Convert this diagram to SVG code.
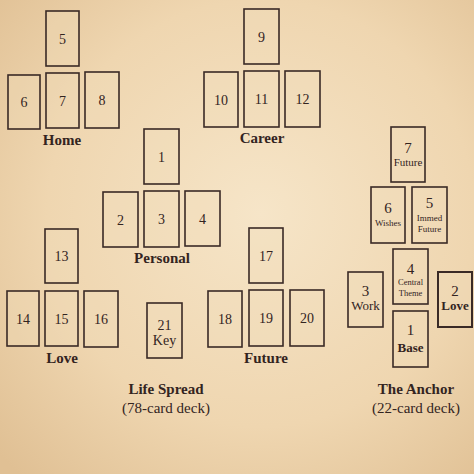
<svg xmlns="http://www.w3.org/2000/svg" width="474" height="474" viewBox="0 0 474 474">
<defs>
<radialGradient id="bg" cx="0.55" cy="0.45" r="0.75">
<stop offset="0" stop-color="#f6e5c8"/>
<stop offset="0.6" stop-color="#efd6b0"/>
<stop offset="1" stop-color="#e0c094"/>
</radialGradient>
</defs>
<style>
.card{fill:#f2ddbb;fill-opacity:0.35;stroke:#3a2a26;stroke-width:1.6}
text{font-family:"Liberation Serif","DejaVu Serif",serif;fill:#33241f;text-anchor:middle}
.n{font-size:14px}
.an{font-size:15px}
.lbl{font-size:15px;font-weight:bold}
.sub{font-size:15px}
.s9{font-size:9px}
.s8{font-size:8.5px}
.s11{font-size:11px}
.s13{font-size:13px}
.b{font-weight:bold}
</style>
<rect x="0" y="0" width="474" height="474" fill="url(#bg)"/>

<g id="card5"><rect class="card" x="46" y="11" width="33" height="55"/><text class="n" x="62.5" y="43.5">5</text></g>
<g id="card6"><rect class="card" x="8" y="75" width="32" height="54"/><text class="n" x="24" y="107">6</text></g>
<g id="card7"><rect class="card" x="46" y="73" width="33" height="55"/><text class="n" x="62.5" y="105.5">7</text></g>
<g id="card8"><rect class="card" x="85" y="72" width="34" height="56"/><text class="n" x="102" y="105">8</text></g>
<text class="lbl" x="62" y="145">Home</text>

<g id="card9"><rect class="card" x="244" y="9" width="35" height="55"/><text class="n" x="261.5" y="41.5">9</text></g>
<g id="card10"><rect class="card" x="204" y="72" width="34" height="55"/><text class="n" x="221" y="104.5">10</text></g>
<g id="card11"><rect class="card" x="244" y="71" width="35" height="56"/><text class="n" x="261.5" y="104">11</text></g>
<g id="card12"><rect class="card" x="285" y="71" width="35" height="56"/><text class="n" x="302.5" y="104">12</text></g>
<text class="lbl" x="262" y="143">Career</text>

<g id="card1"><rect class="card" x="144" y="129" width="35" height="55"/><text class="n" x="161.5" y="161.5">1</text></g>
<g id="card2"><rect class="card" x="103" y="192" width="35" height="55"/><text class="n" x="120.5" y="224.5">2</text></g>
<g id="card3"><rect class="card" x="144" y="191" width="35" height="56"/><text class="n" x="161.5" y="224">3</text></g>
<g id="card4"><rect class="card" x="185" y="191" width="35" height="55"/><text class="n" x="202.5" y="223.5">4</text></g>
<text class="lbl" x="162" y="263">Personal</text>

<g id="card13"><rect class="card" x="45" y="229" width="33" height="54"/><text class="n" x="61.5" y="261">13</text></g>
<g id="card14"><rect class="card" x="7" y="291" width="32" height="55"/><text class="n" x="23" y="323.5">14</text></g>
<g id="card15"><rect class="card" x="45" y="291" width="33" height="55"/><text class="n" x="61.5" y="323.5">15</text></g>
<g id="card16"><rect class="card" x="84" y="291" width="34" height="56"/><text class="n" x="101" y="324">16</text></g>
<text class="lbl" x="62" y="363">Love</text>

<g id="card17"><rect class="card" x="249" y="228" width="34" height="55"/><text class="n" x="266" y="260.5">17</text></g>
<g id="card18"><rect class="card" x="208" y="291" width="34" height="56"/><text class="n" x="225" y="324">18</text></g>
<g id="card19"><rect class="card" x="249" y="290" width="34" height="56"/><text class="n" x="266" y="323">19</text></g>
<g id="card20"><rect class="card" x="290" y="290" width="34" height="56"/><text class="n" x="307" y="323">20</text></g>
<text class="lbl" x="266" y="363">Future</text>

<g id="card21"><rect class="card" x="147" y="303" width="35" height="55"/><text class="n" x="164.5" y="330">21</text><text class="n" x="164.5" y="345">Key</text></g>

<text class="lbl" x="166" y="394">Life Spread</text>
<text class="sub" x="166" y="413">(78-card deck)</text>

<g id="anchor7"><rect class="card" x="391" y="127" width="34" height="55"/><text class="an" x="408" y="153">7</text><text class="s11" x="408" y="166">Future</text></g>
<g id="anchor6"><rect class="card" x="371" y="187" width="34" height="56"/><text class="an" x="388" y="213">6</text><text class="s9" x="388" y="226">Wishes</text></g>
<g id="anchor5"><rect class="card" x="412" y="187" width="35" height="56"/><text class="an" x="429.5" y="208">5</text><text class="s9" x="429.5" y="221">Immed</text><text class="s9" x="429.5" y="232">Future</text></g>
<g id="anchor4"><rect class="card" x="393" y="249" width="35" height="55"/><text class="an" x="410.5" y="274">4</text><text class="s8" x="410.5" y="285">Central</text><text class="s8" x="410.5" y="295.5">Theme</text></g>
<g id="anchor3"><rect class="card" x="348" y="272" width="35" height="55"/><text class="an" x="365.5" y="296">3</text><text class="s13" x="365.5" y="310">Work</text></g>
<g id="anchor2"><rect class="card" x="438" y="272" width="34" height="55" style="stroke-width:2"/><text class="an" x="455" y="296">2</text><text class="s13 b" x="455" y="310">Love</text></g>
<g id="anchor1"><rect class="card" x="393" y="311" width="35" height="56"/><text class="an" x="410.5" y="335">1</text><text class="s13 b" x="410.5" y="351.5">Base</text></g>

<text class="lbl" x="416" y="394">The Anchor</text>
<text class="sub" x="416" y="413">(22-card deck)</text>
</svg>
